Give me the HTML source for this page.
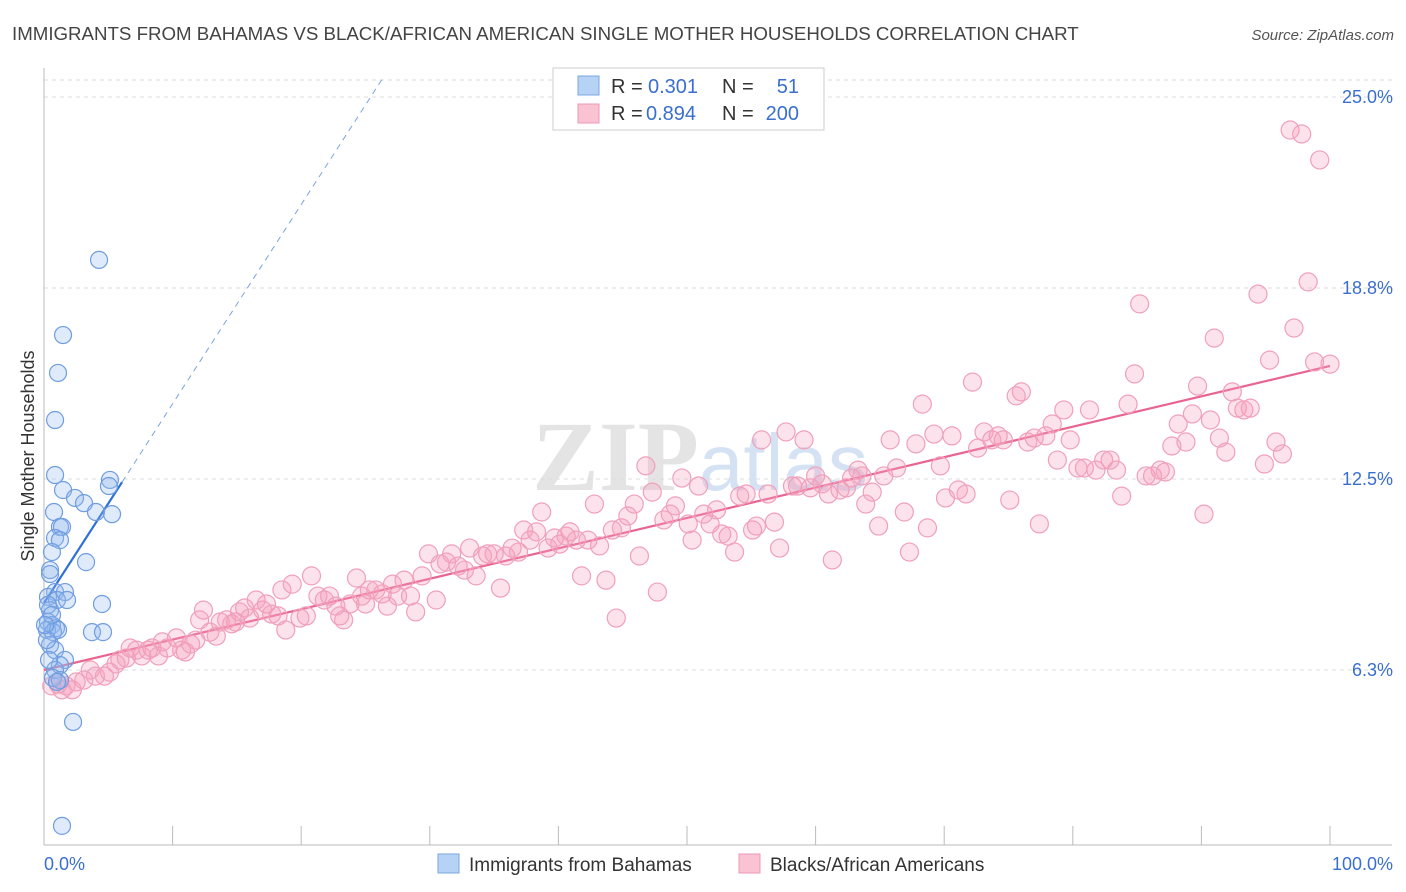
<!DOCTYPE html>
<html><head><meta charset="utf-8"><style>
body{margin:0;background:#fff;font-family:"Liberation Sans",sans-serif;}
#wrap{position:relative;width:1406px;height:892px;overflow:hidden;}
</style></head><body>
<div id="wrap">
<svg id="chart" width="1406" height="892">
<text x="12" y="40" font-size="18.7" fill="#444">IMMIGRANTS FROM BAHAMAS VS BLACK/AFRICAN AMERICAN SINGLE MOTHER HOUSEHOLDS CORRELATION CHART</text>
<text x="1394" y="40" font-size="15" fill="#555" font-style="italic" text-anchor="end">Source: ZipAtlas.com</text>
<text x="700" y="490" font-size="100" fill="#e4e4e4" text-anchor="middle" font-family="Liberation Serif,serif" font-weight="bold">ZIP<tspan fill="#d4e2f4" font-family="Liberation Sans,sans-serif" font-weight="normal" font-size="80">atlas</tspan></text>
<text transform="translate(34,456) rotate(-90)" font-size="18" fill="#333" text-anchor="middle">Single Mother Households</text>
<g id="grid"></g><g id="axes"></g><g id="lines"></g><g id="pts"></g>
<g>
<rect x="553" y="68" width="271" height="62" fill="#fff" stroke="#ccc"/>
<rect x="578" y="76" width="21" height="19" fill="#b6d2f5" stroke="#7aa8e0"/>
<rect x="578" y="104" width="21" height="19" fill="#f9c3d3" stroke="#ee98b4"/>
<text x="611" y="93" font-size="20" fill="#333">R =</text>
<text x="648" y="93" font-size="20" fill="#3a6fd0">0.301</text>
<text x="722" y="93" font-size="20" fill="#333">N =</text>
<text x="799" y="93" font-size="20" fill="#3a6fd0" text-anchor="end">51</text>
<text x="611" y="120" font-size="20" fill="#333">R =</text>
<text x="646" y="120" font-size="20" fill="#3a6fd0">0.894</text>
<text x="722" y="120" font-size="20" fill="#333">N =</text>
<text x="799" y="120" font-size="20" fill="#3a6fd0" text-anchor="end">200</text>
</g>
<g>
<rect x="438" y="854" width="21" height="19" fill="#b6d2f5" stroke="#7aa8e0"/>
<text x="469" y="871" font-size="19" fill="#333">Immigrants from Bahamas</text>
<rect x="739" y="854" width="21" height="19" fill="#f9c3d3" stroke="#ee98b4"/>
<text x="770" y="871" font-size="19" fill="#333">Blacks/African Americans</text>
</g>
</svg></div>
<script>
const xTicks=[0,10,20,30,40,50,60,70,80,90,100];
const yTicks=[6.25,12.5,18.75,25];
const yTickLabels=["6.3%","12.5%","18.8%","25.0%"];
const xEndLabels=["0.0%","100.0%"];
const blueX=[4.28,1.48,1.09,0.86,0.86,5.13,5.05,1.48,2.41,3.11,4.04,5.29,0.78,1.24,1.40,0.86,1.24,0.62,3.27,0.47,0.47,0.86,1.63,0.31,1.01,1.79,4.51,0.47,0.31,0.62,0.93,0.23,0.70,1.09,3.73,4.59,0.47,0.86,1.63,1.24,0.86,0.70,1.24,2.26,1.40,0.31,0.62,0.23,0.39,1.01,0.08];
const blueY=[19.67,17.21,15.97,14.43,12.63,12.47,12.27,12.14,11.88,11.71,11.42,11.35,11.42,10.93,10.93,10.57,10.50,10.11,9.78,9.52,9.39,8.80,8.80,8.64,8.54,8.54,8.41,8.21,7.82,7.72,7.62,7.56,7.49,7.56,7.49,7.49,7.07,6.90,6.58,6.41,6.25,5.99,5.92,4.55,1.15,8.38,8.05,7.23,6.58,5.86,7.72];
const pinkX=[0.6,1.1,1.4,1.7,2.2,2.5,3.1,3.6,4.0,4.7,5.1,5.6,5.9,6.4,6.7,7.2,7.6,8.1,8.4,8.9,9.2,9.6,10.3,10.7,11.0,11.4,11.8,12.1,12.4,12.9,13.4,13.7,14.2,14.6,14.9,15.2,15.6,16.0,16.5,17.0,17.3,17.7,18.2,18.5,18.8,19.3,19.9,20.4,20.8,21.3,21.8,22.2,22.7,23.0,23.3,23.8,24.3,24.7,25.0,25.3,25.8,26.3,26.7,27.1,27.5,28.0,28.5,28.9,29.4,29.9,30.5,30.8,31.3,31.7,32.2,32.7,33.1,33.6,34.1,34.5,35.0,35.5,35.9,36.4,36.9,37.3,37.8,38.3,38.7,39.2,39.7,40.1,40.6,40.9,41.4,41.8,42.3,42.8,43.2,43.7,44.2,44.5,44.9,45.4,45.9,46.3,46.8,47.3,47.7,48.2,48.7,49.1,49.6,50.1,50.4,50.9,51.3,51.8,52.3,52.7,53.2,53.7,54.1,54.6,55.1,55.4,55.8,56.3,56.8,57.2,57.7,58.2,58.6,59.1,59.6,60.0,60.5,61.0,61.3,61.9,62.4,62.8,63.3,63.6,63.9,64.4,64.9,65.3,65.8,66.3,66.9,67.3,67.8,68.3,68.7,69.2,69.7,70.1,70.6,71.1,71.7,72.2,72.6,73.1,73.7,74.2,74.6,75.1,75.6,76.0,76.5,77.0,77.4,77.9,78.4,78.8,79.3,79.8,80.4,80.9,81.3,81.8,82.4,82.9,83.4,83.8,84.3,84.8,85.2,85.7,86.2,86.8,87.2,87.7,88.2,88.8,89.3,89.7,90.2,90.7,91.0,91.4,91.9,92.4,92.8,93.3,93.8,94.4,94.9,95.3,95.8,96.3,96.9,97.2,97.8,98.3,98.8,99.2,100.0];
const pinkY=[5.73,5.79,5.60,5.73,5.60,5.86,5.92,6.25,6.05,6.05,6.18,6.45,6.58,6.64,6.97,6.90,6.71,6.90,6.97,6.71,7.17,6.97,7.30,6.90,6.84,7.10,7.23,7.89,8.21,7.49,7.36,7.82,7.89,7.76,7.82,8.15,8.28,7.95,8.54,8.21,8.41,8.08,8.02,8.87,7.56,9.06,7.95,8.02,9.33,8.67,8.54,8.67,8.34,8.02,7.89,8.41,9.26,8.67,8.41,8.87,8.87,8.74,8.34,9.06,8.67,9.19,8.67,8.15,9.33,10.05,8.54,9.72,9.78,10.05,9.65,9.52,10.24,9.33,9.98,10.05,10.05,8.93,9.98,10.24,10.11,10.83,10.50,10.77,11.42,10.24,10.57,10.37,10.63,10.77,10.50,9.33,10.50,11.68,10.31,9.19,10.83,7.95,10.90,11.29,11.68,9.98,12.93,12.07,8.80,11.16,11.35,11.62,12.53,11.03,10.50,12.27,11.35,11.03,11.49,10.70,10.63,10.11,11.94,12.01,10.83,10.96,13.78,12.01,11.09,10.24,14.04,12.27,12.27,13.78,12.21,12.60,12.34,12.01,9.85,12.14,12.21,12.53,12.79,12.60,11.68,12.07,10.96,12.60,13.78,12.86,11.42,10.11,13.65,14.95,10.90,13.97,12.93,11.88,13.91,12.14,12.01,15.67,13.51,14.04,13.78,13.91,13.78,11.81,15.22,15.35,13.71,13.84,11.03,13.91,14.30,13.12,14.76,13.78,12.86,12.86,14.76,12.79,13.12,13.12,12.79,11.94,14.95,15.94,18.23,12.60,12.60,12.79,12.73,13.58,14.30,13.71,14.63,15.54,11.35,14.43,17.11,13.84,13.38,15.35,14.82,14.76,14.82,18.55,12.99,16.39,13.71,13.32,23.92,17.44,23.79,18.95,16.33,22.94,16.26];
const blueTrend=[8.44,0.652];
const blueSolidEnd=6.07, blueDashEnd=26.4;
const pinkTrend=[6.25,0.0995];

const NS="http://www.w3.org/2000/svg";
const X0=44,X1=1330,YB=861,PXY=30.56;
const sx=v=>X0+(X1-X0)*v/100;
const sy=v=>YB-v*PXY;
function mk(tag,attrs,parent){const e=document.createElementNS(NS,tag);for(const k in attrs)e.setAttribute(k,attrs[k]);document.getElementById(parent).appendChild(e);return e;}
yTicks.forEach((t,i)=>{
 const l=mk('line',{x1:44,x2:1392,y1:sy(t),y2:sy(t),stroke:'#ddd','stroke-dasharray':'4,4'},'grid');
 
 
 const tx=mk('text',{x:1393,y:sy(t)+6,'font-size':18,fill:'#3a6fd0','text-anchor':'end'},'grid');
 tx.textContent=yTickLabels[i];
 
 
});
const topGrid=mk('line',{x1:44,x2:1392,y1:80,y2:80,stroke:'#ddd','stroke-dasharray':'4,4'},'grid');


const ya=mk('line',{x1:44,x2:44,y1:68,y2:845,stroke:'#bbb'},'axes');


const xa=mk('line',{x1:44,x2:1392,y1:845,y2:845,stroke:'#bbb'},'axes');


xTicks.forEach(t=>{if(t===0)return;
 const l=mk('line',{x1:sx(t),x2:sx(t),y1:826,y2:845,stroke:'#bbb'},'axes');
 
 
});
const xl0=mk('text',{x:44,y:870,'font-size':18,fill:'#3a6fd0'},'axes');xl0.textContent=xEndLabels[0];


const xl1=mk('text',{x:1393,y:870,'font-size':18,fill:'#3a6fd0','text-anchor':'end'},'axes');xl1.textContent=xEndLabels[1];


pinkX.forEach((x,i)=>{
 const c=mk('circle',{cx:sx(x),cy:sy(pinkY[i]),r:9,fill:'rgba(244,160,188,0.3)',stroke:'#f0a0ba','stroke-width':1.2},'pts');
 
 
});
blueX.forEach((x,i)=>{
 const c=mk('circle',{cx:sx(x),cy:sy(blueY[i]),r:8.5,fill:'rgba(150,185,240,0.3)',stroke:'#6f9de0','stroke-width':1.2},'pts');
 
 
});
const pl=mk('line',{x1:sx(0),y1:sy(pinkTrend[0]),x2:sx(100),y2:sy(pinkTrend[0]+100*pinkTrend[1]),stroke:'#e8658f','stroke-width':2.2},'lines');


const bl=mk('line',{x1:sx(0),y1:sy(blueTrend[0]),x2:sx(blueSolidEnd),y2:sy(blueTrend[0]+blueSolidEnd*blueTrend[1]),stroke:'#2f6fd8','stroke-width':2.2},'lines');


const bd=mk('line',{x1:sx(blueSolidEnd),y1:sy(blueTrend[0]+blueSolidEnd*blueTrend[1]),x2:sx(blueDashEnd),y2:sy(blueTrend[0]+blueDashEnd*blueTrend[1]),stroke:'#7aa3e0','stroke-width':1,'stroke-dasharray':'6,5'},'lines');


</script>
</body></html>
